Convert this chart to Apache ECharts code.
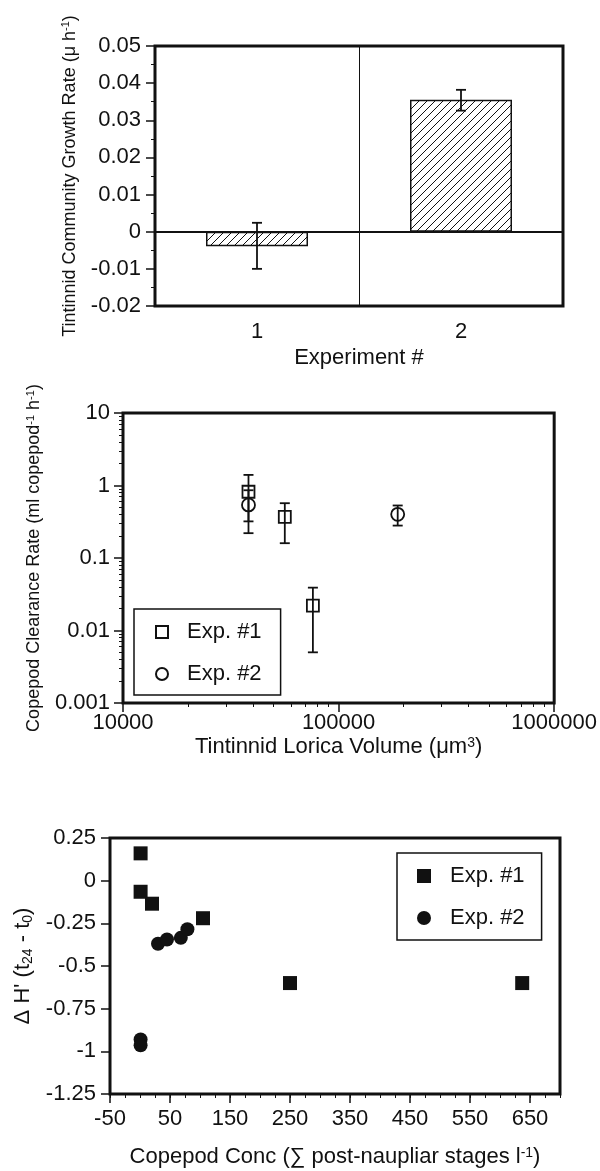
<!DOCTYPE html>
<html><head><meta charset="utf-8">
<script src="https://cdn.jsdelivr.net/npm/echarts@6/dist/echarts.min.js"></script>
<style>html,body{margin:0;padding:0;background:#fff}#c{width:600px;height:1171px}</style>
</head><body><div id="c"></div>
<script>
// ---------- Panel 1: growth rate ----------
const experiments = ['1', '2'];
const growthRate = [-0.0039, 0.0355];
const growthErrLow = [-0.0100, 0.0326];
const growthErrHigh = [0.0024, 0.0382];
// ---------- Panel 2: clearance rate vs lorica volume ----------
const exp1Volume = [38200, 56300, 76000];
const exp1Clearance = [0.82, 0.37, 0.022];
const exp1ClearLow = [0.32, 0.16, 0.0050];
const exp1ClearHigh = [1.40, 0.57, 0.039];
const exp2Volume = [38200, 188000];
const exp2Clearance = [0.54, 0.40];
const exp2ClearLow = [0.22, 0.28];
const exp2ClearHigh = [0.86, 0.53];
// ---------- Panel 3: delta H' vs copepod conc ----------
const exp1Conc = [1, 1, 20, 105, 250, 637];
const exp1DeltaH = [0.16, -0.065, -0.135, -0.22, -0.60, -0.60];
const exp2Conc = [30, 45, 68, 79, 1, 1];
const exp2DeltaH = [-0.37, -0.345, -0.335, -0.285, -0.93, -0.965];
const concTicks = [-50, 50, 150, 250, 350, 450, 550, 650];
const concMinorTicks = [];
for (let v = -50; v <= 700; v += 25) concMinorTicks.push(v);
const volMinorTicks = [];
for (const d of [10000, 100000]) for (let m = 2; m <= 9; m++) volMinorTicks.push(d * m);
const rateMinorTicks = [];
for (const d of [0.001, 0.01, 0.1, 1]) for (let m = 2; m <= 9; m++) rateMinorTicks.push(+(d * m).toPrecision(3));
const legendNames = { p2e1: 'Exp. #1', p2e2: 'Exp. #2', p3e1: 'Exp. #1', p3e2: 'Exp. #2' };

const FONT = '"Liberation Sans", Arial, Helvetica, sans-serif';
const INK = '#111111';

function hatch() {
  const c = document.createElement('canvas'); c.width = 8; c.height = 8;
  const g = c.getContext('2d');
  g.fillStyle = '#fff'; g.fillRect(0, 0, 8, 8);
  g.strokeStyle = INK; g.lineWidth = 1;
  g.beginPath();
  g.moveTo(-1, 9); g.lineTo(9, -1);
  g.moveTo(-3, 3); g.lineTo(3, -3);
  g.moveTo(5, 11); g.lineTo(11, 5);
  g.stroke();
  return c;
}

function errBars(xi, yi, xs, lows, highs, cap) {
  return {
    type: 'custom', xAxisIndex: xi, yAxisIndex: yi, z: 6, silent: true,
    data: xs.map((x, i) => [x, lows[i], highs[i]]),
    encode: { x: 0, y: [1, 2] },
    renderItem: (params, api) => {
      const x = api.value(0), lo = api.value(1), hi = api.value(2);
      const a = api.coord([x, hi]), b = api.coord([x, lo]);
      const st = { stroke: INK, lineWidth: 1.8 };
      return { type: 'group', children: [
        { type: 'line', shape: { x1: a[0], y1: a[1], x2: b[0], y2: b[1] }, style: st },
        { type: 'line', shape: { x1: a[0] - cap, y1: a[1], x2: a[0] + cap, y2: a[1] }, style: st },
        { type: 'line', shape: { x1: b[0] - cap, y1: b[1], x2: b[0] + cap, y2: b[1] }, style: st }
      ] };
    }
  };
}

const richS = s => ({
  sup: { fontSize: Math.round(s * 0.62), fontFamily: FONT, color: INK, verticalAlign: 'top', lineHeight: Math.round(s * 0.62), padding: [0, 0, Math.round(s * 0.45), 0] },
  sub: { fontSize: Math.round(s * 0.62), fontFamily: FONT, color: INK, lineHeight: Math.round(s * 0.62), padding: [Math.round(s * 0.45), 0, 0, 0] }
});
const nameStyle = s => ({ fontSize: s, fontFamily: FONT, color: INK, rich: richS(s) });
const labelStyle = { fontSize: 22, fontFamily: FONT, color: INK };
const tickStyle = { show: true, length: 9, lineStyle: { color: INK, width: 1.5 } };
const noLine = { show: false, onZero: false };
const minorAxis = (type, grid, pos, min, max, vals) => ({
  type, gridIndex: grid, position: pos, min, max,
  axisLine: noLine, splitLine: { show: false },
  axisLabel: { show: false },
  axisTick: { show: true, length: 4, customValues: vals, lineStyle: { color: INK, width: 1 } }
});

const fmtNum = v => String(+Number(v).toPrecision(6));

const option = {
  animation: false,
  backgroundColor: '#fff',
  textStyle: { fontFamily: FONT, color: INK },
  grid: [
    { left: 155, top: 46, width: 408, height: 260, show: true, borderColor: INK, borderWidth: 3 },
    { left: 123, top: 413, width: 435, height: 290, show: true, borderColor: INK, borderWidth: 3 },
    { left: 110, top: 838, width: 450, height: 257, show: true, borderColor: INK, borderWidth: 3 }
  ],
  legend: [
    {
      data: ['p2e1', 'p2e2'], formatter: n => legendNames[n], selectedMode: false,
      orient: 'vertical', left: 134, top: 609, padding: [12, 19, 10, 21], itemGap: 20,
      itemWidth: 12, itemHeight: 12, borderColor: INK, borderWidth: 1.5,
      textStyle: { fontSize: 22, fontFamily: FONT, color: INK, padding: [0, 0, 0, 14] }
    },
    {
      data: ['p3e1', 'p3e2'], formatter: n => legendNames[n], selectedMode: false,
      orient: 'vertical', left: 397, top: 853, padding: [12, 17, 11, 20], itemGap: 20,
      itemWidth: 14, itemHeight: 14, borderColor: INK, borderWidth: 1.5,
      textStyle: { fontSize: 22, fontFamily: FONT, color: INK, padding: [0, 0, 0, 14] }
    }
  ],
  xAxis: [
    { type: 'category', gridIndex: 0, data: experiments, boundaryGap: true,
      axisLine: noLine, axisTick: { show: false },
      axisLabel: Object.assign({ margin: 15 }, labelStyle),
      splitLine: { show: true, lineStyle: { color: INK, width: 1 } },
      name: 'Experiment #', nameLocation: 'middle', nameGap: 41, nameTextStyle: nameStyle(22) },
    { type: 'log', logBase: 10, gridIndex: 1, position: 'bottom', min: 10000, max: 1000000,
      axisLine: noLine, axisTick: tickStyle, splitLine: { show: false },
      axisLabel: Object.assign({ margin: 9, formatter: v => String(Math.round(v)) }, labelStyle),
      name: 'Tintinnid Lorica Volume (μm{sup|3})', nameLocation: 'middle', nameGap: 33, nameTextStyle: nameStyle(22) },
    minorAxis('log', 1, 'bottom', 10000, 1000000, volMinorTicks),
    { type: 'value', gridIndex: 2, position: 'bottom', min: -50, max: 700,
      axisLine: noLine, splitLine: { show: false },
      axisTick: Object.assign({ customValues: concTicks }, tickStyle),
      axisLabel: Object.assign({ margin: 14, customValues: concTicks }, labelStyle),
      name: 'Copepod Conc (∑ post-naupliar stages l{sup|-1})', nameLocation: 'middle', nameGap: 52, nameTextStyle: nameStyle(22) },
    minorAxis('value', 2, 'bottom', -50, 700, concMinorTicks)
  ],
  yAxis: [
    { type: 'value', gridIndex: 0, min: -0.02, max: 0.05, interval: 0.01,
      axisLine: noLine, axisTick: tickStyle, splitLine: { show: false },
      minorTick: { show: true, splitNumber: 2, length: 4, lineStyle: { color: INK, width: 1 } },
      axisLabel: Object.assign({ margin: 14 }, labelStyle),
      name: 'Tintinnid Community Growth Rate (μ h{sup|-1})', nameLocation: 'middle', nameGap: 68, nameRotate: 90, nameTextStyle: nameStyle(18) },
    { type: 'log', logBase: 10, gridIndex: 1, position: 'left', min: 0.001, max: 10,
      axisLine: noLine, axisTick: tickStyle, splitLine: { show: false },
      axisLabel: Object.assign({ margin: 13, formatter: fmtNum }, labelStyle),
      name: 'Copepod Clearance Rate (ml copepod{sup|-1} h{sup|-1})', nameLocation: 'middle', nameGap: 72, nameRotate: 90, nameTextStyle: nameStyle(18) },
    minorAxis('log', 1, 'left', 0.001, 10, rateMinorTicks),
    { type: 'value', gridIndex: 2, position: 'left', min: -1.25, max: 0.25, interval: 0.25,
      axisLine: noLine, axisTick: tickStyle, splitLine: { show: false },
      axisLabel: Object.assign({ margin: 14 }, labelStyle),
      name: 'Δ H\' (t{sub|24} - t{sub|0})', nameLocation: 'middle', nameGap: 71, nameRotate: 90, nameTextStyle: nameStyle(22) }
  ],
  series: [
    { type: 'bar', name: 'growth', xAxisIndex: 0, yAxisIndex: 0, data: growthRate, barWidth: '50%',
      itemStyle: { color: { image: hatch(), repeat: 'repeat' }, borderColor: INK, borderWidth: 1.5 },
      markLine: { silent: true, symbol: ['none', 'none'], label: { show: false },
        lineStyle: { color: INK, width: 1.8, type: 'solid' }, data: [{ yAxis: 0 }] } },
    errBars(0, 0, [0, 1], growthErrLow, growthErrHigh, 5),
    { type: 'scatter', name: 'p2e1', xAxisIndex: 1, yAxisIndex: 1, symbol: 'rect', symbolSize: 12,
      data: exp1Volume.map((v, i) => [v, exp1Clearance[i]]),
      itemStyle: { color: 'rgba(255,255,255,0)', borderColor: INK, borderWidth: 1.8, opacity: 1 }, z: 4 },
    { type: 'scatter', name: 'p2e2', xAxisIndex: 1, yAxisIndex: 1, symbol: 'circle', symbolSize: 13,
      data: exp2Volume.map((v, i) => [v, exp2Clearance[i]]),
      itemStyle: { color: 'rgba(255,255,255,0)', borderColor: INK, borderWidth: 1.8, opacity: 1 }, z: 4 },
    errBars(1, 1, exp1Volume, exp1ClearLow, exp1ClearHigh, 5),
    errBars(1, 1, exp2Volume, exp2ClearLow, exp2ClearHigh, 5),
    { type: 'scatter', name: 'p3e1', xAxisIndex: 3, yAxisIndex: 3, symbol: 'rect', symbolSize: 14,
      data: exp1Conc.map((v, i) => [v, exp1DeltaH[i]]), itemStyle: { color: INK, opacity: 1 } },
    { type: 'scatter', name: 'p3e2', xAxisIndex: 3, yAxisIndex: 3, symbol: 'circle', symbolSize: 14,
      data: exp2Conc.map((v, i) => [v, exp2DeltaH[i]]), itemStyle: { color: INK, opacity: 1 } }
  ]
};
const chart = echarts.init(document.getElementById('c'), null, { renderer: 'canvas' });
chart.setOption(option);
</script></body></html>
